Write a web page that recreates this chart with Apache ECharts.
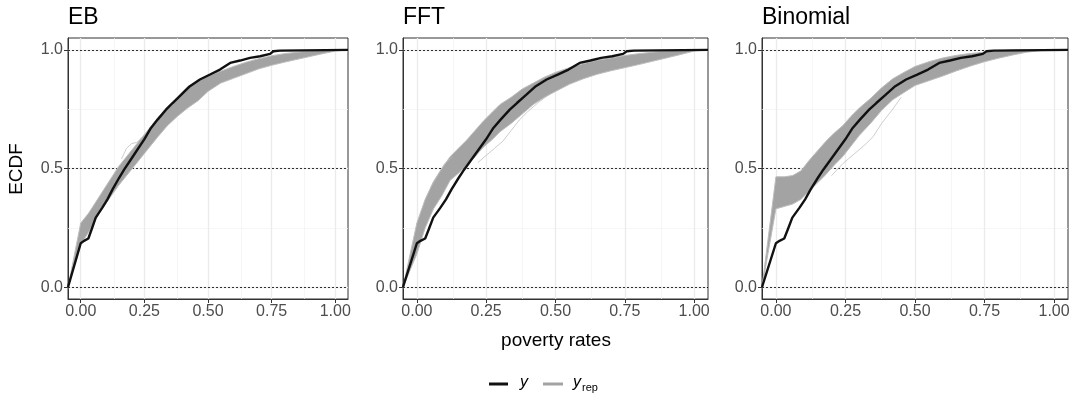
<!DOCTYPE html>
<html>
<head>
<meta charset="utf-8">
<script src="https://cdn.jsdelivr.net/npm/echarts@6/dist/echarts.min.js"></script>
<style>
html, body { margin: 0; padding: 0; background: #fff; }
#chart { width: 1075px; height: 398px; }
</style>
</head>
<body>
<div id="chart"></div>
<script>
var FONT = '"Liberation Sans", Arial, Helvetica, sans-serif';

// observed poverty rates, ECDF (same curve in every panel)
var yX = [-0.05, 0, 0.013, 0.03, 0.043, 0.059, 0.085, 0.105, 0.125, 0.151, 0.171, 0.197, 0.223, 0.249, 0.276, 0.302,
          0.335, 0.361, 0.394, 0.429, 0.468, 0.508, 0.547, 0.587, 0.626, 0.665, 0.705, 0.744, 0.757, 0.783, 1.05];
var yY = [0, 0.185, 0.195, 0.205, 0.244, 0.293, 0.335, 0.37, 0.412, 0.461, 0.496, 0.538, 0.58, 0.622, 0.671, 0.706,
          0.748, 0.776, 0.81, 0.847, 0.875, 0.896, 0.917, 0.945, 0.955, 0.966, 0.973, 0.983, 0.994, 0.997, 1.0];

// spread of the replicated ECDFs (lowest / highest curve) on a shared x grid
var bandX = [-0.05, 0, 0.03, 0.06, 0.09, 0.12, 0.15, 0.18, 0.21, 0.24, 0.27, 0.30, 0.34, 0.38, 0.42, 0.46,
             0.50, 0.55, 0.60, 0.65, 0.70, 0.75, 0.80, 0.85, 0.90, 0.95, 1.00, 1.05];

var ebLo  = [0, 0.18, 0.23, 0.29, 0.34, 0.385, 0.43, 0.47, 0.51, 0.55, 0.59, 0.63, 0.68, 0.72, 0.755, 0.785,
             0.825, 0.86, 0.88, 0.90, 0.92, 0.935, 0.948, 0.96, 0.972, 0.984, 0.995, 1];
var ebHi  = [0, 0.27, 0.31, 0.36, 0.41, 0.46, 0.51, 0.55, 0.59, 0.63, 0.67, 0.71, 0.76, 0.80, 0.845, 0.868,
             0.89, 0.91, 0.93, 0.948, 0.963, 0.975, 0.984, 0.99, 0.995, 0.999, 1, 1];

var fftLo = [0, 0.14, 0.25, 0.33, 0.385, 0.45, 0.48, 0.515, 0.55, 0.59, 0.62, 0.655, 0.69, 0.73, 0.77, 0.80,
             0.825, 0.855, 0.878, 0.897, 0.912, 0.925, 0.938, 0.952, 0.966, 0.98, 0.995, 1];
var fftHi = [0, 0.27, 0.37, 0.445, 0.50, 0.55, 0.585, 0.62, 0.66, 0.70, 0.735, 0.77, 0.80, 0.835, 0.86, 0.885,
             0.905, 0.925, 0.942, 0.956, 0.966, 0.976, 0.984, 0.99, 0.995, 1, 1, 1];

var binLo = [0, 0.33, 0.34, 0.35, 0.37, 0.405, 0.44, 0.475, 0.515, 0.55, 0.595, 0.64, 0.69, 0.745, 0.79, 0.82,
             0.85, 0.87, 0.89, 0.912, 0.932, 0.95, 0.965, 0.978, 0.99, 0.997, 1, 1];
var binHi = [0, 0.465, 0.465, 0.47, 0.49, 0.535, 0.575, 0.615, 0.65, 0.68, 0.72, 0.755, 0.795, 0.84, 0.878, 0.905,
             0.93, 0.95, 0.966, 0.977, 0.985, 0.99, 0.995, 1, 1, 1, 1, 1];

// single replicated curves that stray outside the band
var ebOutX  = [0.16, 0.18, 0.20, 0.22, 0.24];
var ebOutY  = [0.54, 0.585, 0.605, 0.61, 0.63];
var fftOutAX = [0.22, 0.25, 0.28, 0.31, 0.34, 0.37, 0.40, 0.44, 0.48];
var fftOutAY = [0.525, 0.555, 0.585, 0.615, 0.66, 0.705, 0.74, 0.78, 0.815];
var fftOutBX = [0.05, 0.08, 0.10, 0.13];
var fftOutBY = [0.42, 0.48, 0.52, 0.55];
var binOutX = [0.20, 0.24, 0.28, 0.32, 0.35, 0.38, 0.42, 0.45];
var binOutY = [0.47, 0.52, 0.56, 0.60, 0.635, 0.69, 0.75, 0.80];

var xTicks = [0, 0.25, 0.5, 0.75, 1];
var xMinor = [0.125, 0.375, 0.625, 0.875];
var yTicks = [0, 0.5, 1];
var yMinor = [0.25, 0.75];

var panels = [
  { title: 'EB',       left: 68,  width: 280, lo: ebLo,  hi: ebHi,  out: [[ebOutX, ebOutY]] },
  { title: 'FFT',      left: 403, width: 305, lo: fftLo, hi: fftHi, out: [[fftOutAX, fftOutAY], [fftOutBX, fftOutBY]] },
  { title: 'Binomial', left: 762, width: 306, lo: binLo, hi: binHi, out: [[binOutX, binOutY]] }
];

function zip(xs, ys) {
  return xs.map(function (x, k) { return [x, ys[k]]; });
}

var BAND = '#a3a3a3';
var grids = [], xAxes = [], yAxes = [], titles = [], series = [];

panels.forEach(function (p, i) {
  grids.push({ left: p.left, top: 38, width: p.width, height: 261, show: true,
               backgroundColor: '#fff', borderColor: '#333', borderWidth: 1 });
  titles.push({ text: p.title, left: p.left, top: 6, padding: 0,
                textStyle: { fontSize: 23, fontWeight: 'normal', color: '#000', fontFamily: FONT } });
  xAxes.push({
    gridIndex: i, type: 'value', min: -0.05, max: 1.05,
    axisLine: { show: true, onZero: false, lineStyle: { color: '#333', width: 1 } },
    axisTick: { show: true, customValues: xTicks, length: 4, lineStyle: { color: '#333' } },
    axisLabel: { customValues: xTicks, formatter: function (v) { return v.toFixed(2); },
                 color: '#4d4d4d', fontSize: 16, margin: 5, fontFamily: FONT },
    splitLine: { show: false }
  });
  yAxes.push({
    gridIndex: i, type: 'value', min: -0.05, max: 1.05,
    axisLine: { show: true, onZero: false, lineStyle: { color: '#333', width: 1 } },
    axisTick: { show: true, customValues: yTicks, length: 4, lineStyle: { color: '#333' } },
    axisLabel: { customValues: yTicks, formatter: function (v) { return v.toFixed(1); },
                 color: '#4d4d4d', fontSize: 16, margin: 5, fontFamily: FONT },
    splitLine: { show: false }
  });

  // background grid + dotted reference lines (kept under the curves)
  var gridLines = [];
  xMinor.forEach(function (v) { gridLines.push({ xAxis: v, lineStyle: { color: '#f2f2f2', width: 0.7, type: 'solid' } }); });
  yMinor.forEach(function (v) { gridLines.push({ yAxis: v, lineStyle: { color: '#f2f2f2', width: 0.7, type: 'solid' } }); });
  xTicks.forEach(function (v) { gridLines.push({ xAxis: v, lineStyle: { color: '#ebebeb', width: 1.3, type: 'solid' } }); });
  yTicks.forEach(function (v) { gridLines.push({ yAxis: v, lineStyle: { color: '#ebebeb', width: 1.3, type: 'solid' } }); });
  yTicks.forEach(function (v) { gridLines.push({ yAxis: v, lineStyle: { color: '#000', width: 0.8, type: [2, 2] } }); });
  series.push({
    type: 'line', xAxisIndex: i, yAxisIndex: i, data: [], z: 1, silent: true,
    markLine: { z: 1, silent: true, symbol: 'none', label: { show: false }, animation: false, data: gridLines }
  });

  // yrep band: one polygon, lower edge forward then upper edge back
  series.push({
    type: 'custom', xAxisIndex: i, yAxisIndex: i, z: 2, silent: true, clip: true,
    encode: { x: 0, y: 1 },
    data: zip(bandX, p.lo),
    renderItem: function (params, api) {
      if (params.dataIndex !== 0) return null;
      var pts = [];
      for (var k = 0; k < bandX.length; k++) pts.push(api.coord([bandX[k], p.lo[k]]));
      for (var m = bandX.length - 1; m >= 0; m--) pts.push(api.coord([bandX[m], p.hi[m]]));
      return { type: 'polygon', shape: { points: pts },
               style: { fill: BAND, stroke: null } };
    }
  });
  [p.lo, p.hi].forEach(function (edge) {
    series.push({ type: 'line', xAxisIndex: i, yAxisIndex: i, z: 3, silent: true, showSymbol: false,
                  data: zip(bandX, edge), lineStyle: { color: '#bdbdbd', width: 1 } });
  });
  p.out.forEach(function (o) {
    series.push({ type: 'line', xAxisIndex: i, yAxisIndex: i, z: 3, silent: true, showSymbol: false,
                  data: zip(o[0], o[1]), lineStyle: { color: '#b8b8b8', width: 0.7 } });
  });
  series.push({ name: 'y', type: 'line', xAxisIndex: i, yAxisIndex: i, z: 5, silent: true, showSymbol: false,
                data: zip(yX, yY), lineStyle: { color: '#111', width: 2.4 } });
});

var myChart = echarts.init(document.getElementById('chart'));
option = {
  animation: false,
  backgroundColor: '#fff',
  title: titles,
  grid: grids,
  xAxis: xAxes,
  yAxis: yAxes,
  series: series,
  graphic: [
    { type: 'text', x: 17, y: 169, rotation: Math.PI / 2,
      style: { text: 'ECDF', fontSize: 19, fontFamily: FONT, fill: '#000', align: 'center', verticalAlign: 'middle' } },
    { type: 'text', x: 556, y: 341,
      style: { text: 'poverty rates', fontSize: 19, fontFamily: FONT, fill: '#000', align: 'center', verticalAlign: 'middle' } },
    { type: 'line', shape: { x1: 489, y1: 384, x2: 508, y2: 384 }, style: { stroke: '#111', lineWidth: 3 } },
    { type: 'text', x: 520, y: 383,
      style: { text: 'y', fontSize: 16, fontStyle: 'italic', fontFamily: FONT, fill: '#000', verticalAlign: 'middle' } },
    { type: 'line', shape: { x1: 543, y1: 384, x2: 563, y2: 384 }, style: { stroke: '#a3a3a3', lineWidth: 3 } },
    { type: 'text', x: 573, y: 383,
      style: { text: 'y', fontSize: 16, fontStyle: 'italic', fontFamily: FONT, fill: '#000', verticalAlign: 'middle' } },
    { type: 'text', x: 582, y: 388,
      style: { text: 'rep', fontSize: 11, fontFamily: FONT, fill: '#000', verticalAlign: 'middle' } }
  ]
};
myChart.setOption(option);
</script>
</body>
</html>
